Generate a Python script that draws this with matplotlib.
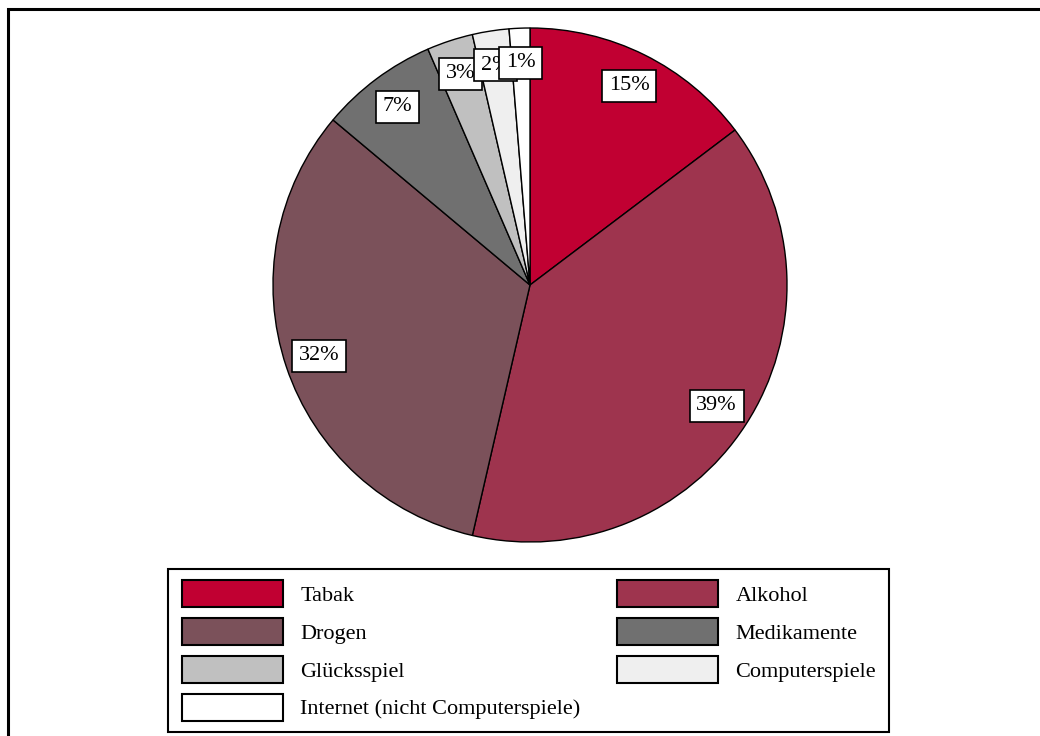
import matplotlib
matplotlib.use("Agg")
import matplotlib.pyplot as plt
from matplotlib.patches import Rectangle

# Anteile der Suchtformen (Prozent)
categories = ["Tabak", "Alkohol", "Drogen", "Medikamente", "Glücksspiel",
              "Computerspiele", "Internet (nicht Computerspiele)"]
shares = [14.7, 38.9, 32.5, 7.4, 2.9, 2.3, 1.3]
colors = ["#C10032", "#9E344E", "#7B515A", "#707070", "#C0C0C0",
          "#EFEFEF", "#FFFFFF"]

plt.rcParams["font.family"] = ["Liberation Serif", "DejaVu Serif"]

W, H = 1040, 736
fig = plt.figure(figsize=(W / 100, H / 100), dpi=100)
fig.patch.set_facecolor("white")


def px_rect(x0, y0, x1, y1, **kw):
    """Rechteck in Pixelkoordinaten (Ursprung oben links)."""
    return Rectangle((x0 / W, 1 - y1 / H), (x1 - x0) / W, (y1 - y0) / H,
                     transform=fig.transFigure, fill=False, clip_on=False, **kw)


# Rahmen um die gesamte Grafik
fig.add_artist(px_rect(8, 9, 1100, 800, edgecolor="black", linewidth=2.2))

cx, cy, r = 530, 285, 257
ax = fig.add_axes([(cx - r) / W, (H - cy - r) / H, 2 * r / W, 2 * r / H])
wedges, _, autotexts = ax.pie(
    shares, colors=colors, startangle=90, counterclock=False,
    radius=1.0, autopct=lambda p: f"{p:.0f}%", pctdistance=0.865,
    wedgeprops=dict(edgecolor="black", linewidth=1.0),
    textprops=dict(fontsize=16, color="black"))
for t in autotexts:
    t.set_bbox(dict(boxstyle="square,pad=0.3", facecolor="white",
                    edgecolor="black", linewidth=1.2))
ax.set_xlim(-1, 1)
ax.set_ylim(-1, 1)
ax.set_aspect("equal")
ax.axis("off")

# Legende in zwei Spalten, zeilenweise gefüllt
order = [0, 2, 4, 6, 1, 3, 5]
leg = fig.legend([wedges[i] for i in order], [categories[i] for i in order],
                 ncol=2, loc="upper left",
                 bbox_to_anchor=(182 / W, 1 - 580 / H),
                 borderaxespad=0, fontsize=16, frameon=False,
                 handlelength=4.55, handleheight=1.49, handletextpad=0.77,
                 labelspacing=0.49, columnspacing=1.65, borderpad=0)
for p in leg.get_patches():
    p.set_linewidth(1.5)
fig.add_artist(px_rect(168, 569, 889, 732, edgecolor="black", linewidth=1.5))

fig.savefig("out.png", dpi=100, facecolor="white")
